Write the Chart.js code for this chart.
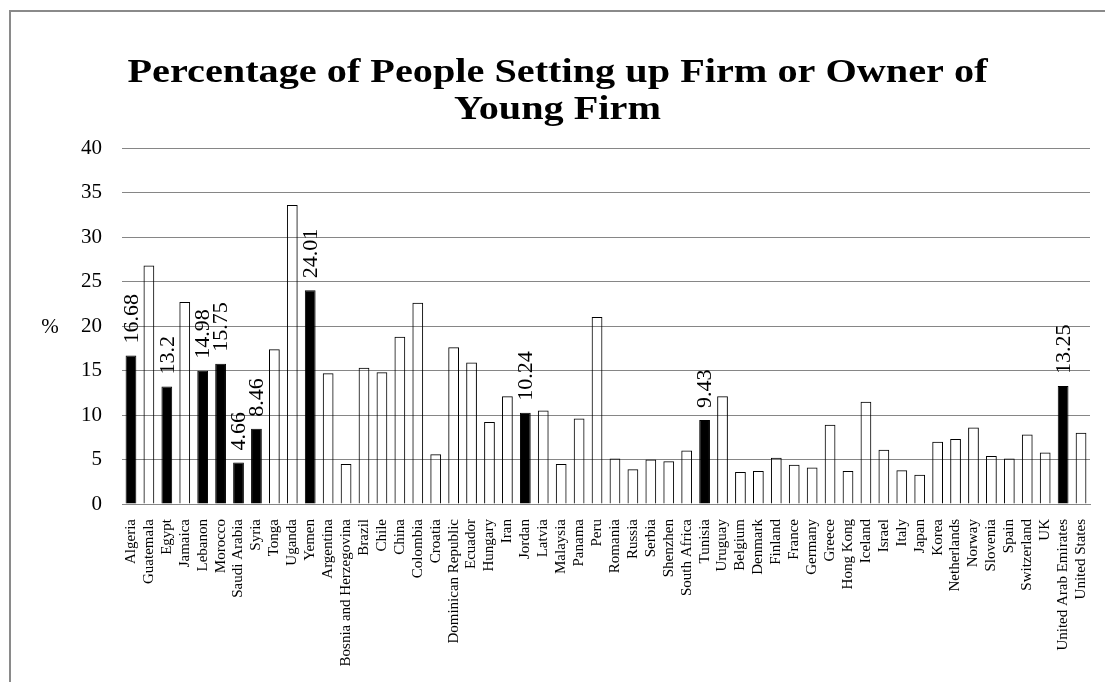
<!DOCTYPE html>
<html>
<head>
<meta charset="utf-8">
<script src="https://cdn.jsdelivr.net/npm/chart.js"></script>
<style>
  html, body { margin: 0; padding: 0; background: #fff; overflow: hidden; }
  #frame { position: absolute; left: 9px; top: 10px; width: 1200px; height: 800px;
           border-left: 2px solid #8a8a8a; border-top: 2px solid #8a8a8a; }
  #chart { position: absolute; left: 0; top: 0; }
</style>
</head>
<body>
<div id="frame"></div>
<canvas id="chart" width="1105" height="682"></canvas>
<script>
// Countries in the order they appear on the x axis
const countries = [
    'Algeria', 'Guatemala', 'Egypt', 'Jamaica', 'Lebanon', 'Morocco', 'Saudi Arabia', 'Syria',
    'Tonga', 'Uganda', 'Yemen', 'Argentina', 'Bosnia and Herzegovina', 'Brazil', 'Chile', 'China',
    'Colombia', 'Croatia', 'Dominican Republic', 'Ecuador', 'Hungary', 'Iran', 'Jordan', 'Latvia',
    'Malaysia', 'Panama', 'Peru', 'Romania', 'Russia', 'Serbia', 'Shenzhen', 'South Africa',
    'Tunisia', 'Uruguay', 'Belgium', 'Denmark', 'Finland', 'France', 'Germany', 'Greece',
    'Hong Kong', 'Iceland', 'Israel', 'Italy', 'Japan', 'Korea', 'Netherlands', 'Norway',
    'Slovenia', 'Spain', 'Switzerland', 'UK', 'United Arab Emirates', 'United States'
];

// Percentage of people setting up a firm or owning a young firm
const percentages = [
    16.68, 26.8, 13.2, 22.7, 14.98, 15.75, 4.66, 8.46,
    17.4, 33.6, 24.01, 14.7, 4.5, 15.3, 14.8, 18.8,
    22.6, 5.6, 17.6, 15.9, 9.2, 12.1, 10.24, 10.5,
    4.5, 9.6, 21.0, 5.1, 3.9, 5.0, 4.8, 6.0,
    9.43, 12.1, 3.6, 3.7, 5.2, 4.4, 4.1, 8.9,
    3.7, 11.5, 6.1, 3.8, 3.3, 7.0, 7.3, 8.6,
    5.4, 5.1, 7.8, 5.8, 13.25, 8.0
];

// Arab countries shown in black with their value printed
const highlighted = [
    'Algeria', 'Egypt', 'Lebanon', 'Morocco', 'Saudi Arabia', 'Syria',
    'Yemen', 'Jordan', 'Tunisia', 'United Arab Emirates'
];

const yTicks = [0, 5, 10, 15, 20, 25, 30, 35, 40];

const titleLines = ['Percentage of People Setting up Firm or Owner of', 'Young Firm'];

const serif = "'Liberation Serif', 'Times New Roman', serif";
const gridGray = '#868686';

// Title is drawn a bit wide, like the original picture
const wideTitle = {
    id: 'wideTitle',
    afterDraw(chart) {
        const ctx = chart.ctx;
        const top = chart.chartArea.top;
        ctx.save();
        ctx.font = 'bold 33px ' + serif;
        ctx.fillStyle = '#000';
        ctx.textAlign = 'center';
        ctx.textBaseline = 'alphabetic';
        titleLines.forEach((line, i) => {
            ctx.save();
            ctx.translate((chart.width + 10) / 2, top - 66 + i * 37);
            ctx.scale(1.22, 1);
            ctx.fillText(line, 0, 0);
            ctx.restore();
        });
        ctx.restore();
    }
};

// Draws the vertical value labels above the black bars
const valueLabels = {
    id: 'valueLabels',
    afterDatasetsDraw(chart) {
        const ctx = chart.ctx;
        const meta = chart.getDatasetMeta(0);
        ctx.save();
        ctx.font = '22px ' + serif;
        ctx.fillStyle = '#000';
        ctx.textAlign = 'left';
        ctx.textBaseline = 'middle';
        meta.data.forEach((bar, i) => {
            if (!highlighted.includes(countries[i])) return;
            ctx.save();
            ctx.translate(bar.x, bar.y - 12);
            ctx.rotate(-Math.PI / 2);
            ctx.fillText(String(percentages[i]), 0, 1);
            ctx.restore();
        });
        ctx.restore();
    }
};

// Unrotated "%" axis title left of the tick labels
const percentTitle = {
    id: 'percentTitle',
    afterDraw(chart) {
        const ctx = chart.ctx;
        const area = chart.chartArea;
        ctx.save();
        ctx.font = '21px ' + serif;
        ctx.fillStyle = '#000';
        ctx.textAlign = 'center';
        ctx.textBaseline = 'middle';
        ctx.fillText('%', area.left - 72, (area.top + area.bottom) / 2 + 1);
        ctx.restore();
    }
};

new Chart(document.getElementById('chart'), {
    type: 'bar',
    data: {
        labels: countries,
        datasets: [{
            data: percentages,
            backgroundColor: countries.map(c => highlighted.includes(c) ? '#000' : 'rgba(255,255,255,0)'),
            borderColor: '#000',
            borderWidth: 1,
            barPercentage: 0.6,
            categoryPercentage: 1.0
        }]
    },
    options: {
        responsive: false,
        animation: false,
        layout: { padding: { top: 148, right: 15, bottom: 0, left: 0 } },
        plugins: {
            legend: { display: false },
            tooltip: { enabled: false },
            title: { display: false }
        },
        scales: {
            x: {
                grid: { display: false, drawTicks: false },
                border: { color: gridGray },
                ticks: {
                    color: '#000',
                    font: { family: serif, size: 15 },
                    minRotation: 90,
                    maxRotation: 90,
                    autoSkip: false,
                    padding: 15
                },
                afterFit(scale) {
                    scale.height = 178;
                    scale.paddingLeft = 0;
                    scale.paddingRight = 0;
                }
            },
            y: {
                min: 0,
                max: 40,
                afterBuildTicks(scale) { scale.ticks = yTicks.map(v => ({ value: v })); },
                grid: { color: gridGray, lineWidth: 1, drawTicks: false },
                border: { display: false },
                ticks: {
                    color: '#000',
                    font: { family: serif, size: 21 },
                    padding: 20
                },
                afterFit(scale) { scale.width = 122; }
            }
        }
    },
    plugins: [valueLabels, percentTitle, wideTitle]
});
</script>
</body>
</html>
